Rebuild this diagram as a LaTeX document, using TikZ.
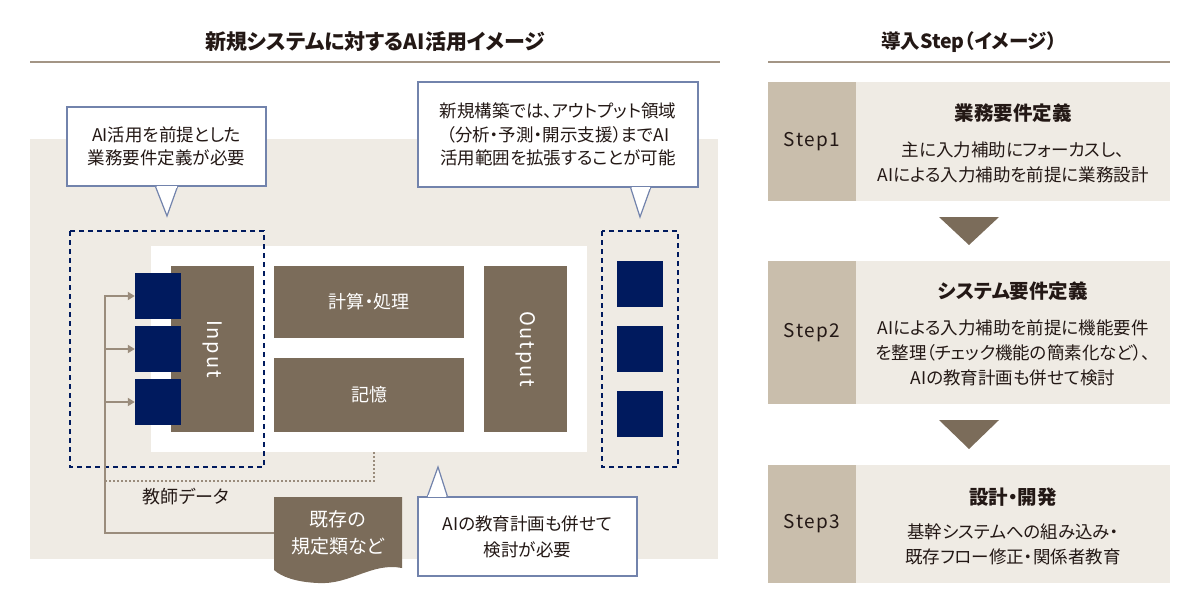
\documentclass[tikz,border=0pt]{standalone}
\usepackage{fontspec}
\setmainfont[RawFeature=+palt]{Noto Sans CJK JP}
\usetikzlibrary{arrows.meta, positioning, calc}
\definecolor{Umber}{HTML}{7B6C5A}
\definecolor{NavyBlue}{HTML}{001A5E}
\definecolor{Sand}{HTML}{EFEBE4}
\definecolor{Khaki}{HTML}{C9BEAC}
\definecolor{RuleGray}{HTML}{A39585}
\definecolor{LineGray}{HTML}{9A8C7C}
\definecolor{NoteBlue}{HTML}{7283AC}
\definecolor{Ink}{HTML}{231815}

\tikzset{
  block/.style={fill=Umber, text=white, inner sep=0pt, font=\fontsize{18}{20}\selectfont},
  port/.style={fill=NavyBlue, minimum width=46pt, minimum height=46pt, inner sep=0pt},
  note/.style={draw=NoteBlue, fill=white, line width=1.2pt, inner sep=0pt, align=center},
  body/.style={align=center, text=Ink, font=\fontsize{17.5}{25}\selectfont},
  steplabel/.style={fill=Khaki, minimum width=88pt, inner sep=0pt, text=Ink, font=\fontsize{19}{19}\selectfont\addfontfeature{LetterSpace=8}},
  stepcard/.style={fill=Sand, minimum width=314pt, inner sep=0pt},
  stephead/.style={text=Ink, font=\bfseries\fontsize{19.5}{19.5}\selectfont},
}

\begin{document}
\begin{tikzpicture}[x=1pt, y=-1pt, >={Triangle[length=7pt, width=8pt]}]
        \useasboundingbox (0,0) rectangle (1200,614);

        % Titles
        \node[text=Ink, font=\bfseries\fontsize{21}{21}\selectfont] (title) at (375,42) {新規システムに対するAI活用イメージ};
        \node[text=Ink, font=\bfseries\fontsize{19.5}{19.5}\selectfont] (steptitle) at (969,42) {導入Step（イメージ）};
        \draw[RuleGray, line width=2pt] (30,62) -- (720,62);
        \draw[RuleGray, line width=2pt] (768,62) -- (1170,62);

        % Background
        \fill[Sand] (30,139) rectangle (718,559);
        \fill[white] (151,246) rectangle (587,452);

        % System blocks
        \node[block, rotate=-90, minimum width=166pt, minimum height=83pt, font=\fontsize{20}{20}\selectfont] (input) at (212.5,349) {\addfontfeature{LetterSpace=9}Input};
        \node[block, minimum width=190pt, minimum height=72pt] (calc) at (369,302) {計算・処理};
        \node[block, minimum width=190pt, minimum height=74pt] (memory) at (369,395) {記憶};
        \node[block, rotate=-90, minimum width=166pt, minimum height=83pt, font=\fontsize{20}{20}\selectfont] (output) at (525.5,349) {\addfontfeature{LetterSpace=9}Output};

        % Ports
        \foreach \i/\y in {1/296, 2/349, 3/402}
            \node[port] (in\i) at (158,\y) {};
        \foreach \i/\y in {1/284, 2/349, 3/414}
            \node[port] (out\i) at (640,\y) {};
        \draw[NavyBlue, line width=1.5pt, dash pattern=on 5pt off 4pt] (70,231) rectangle (264,467);
        \draw[NavyBlue, line width=1.5pt, dash pattern=on 5pt off 4pt] (602,231) rectangle (678,467);

        % Existing rules and feed lines
        \fill[Umber] (274,497) -- (402,497) -- (402,568)
            .. controls (372,562) and (350,585) .. (318,583)
            .. controls (296,582) and (282,577) .. (274,570) -- cycle;
        \node[align=center, text=white, font=\fontsize{19}{27}\selectfont] (rules) at (338,533) {既存の\\規定類など};
        \coordinate (docL) at (274,533);
        \coordinate (trunk) at (105,533);
        \coordinate (tap) at (374,452);
        \coordinate (bend) at (374,481);
        \draw[->, LineGray, line width=1.8pt] (docL) -- (trunk) |- (in1.west);
        \draw[->, LineGray, line width=1.8pt] (trunk |- in2.west) -- (in2.west);
        \draw[->, LineGray, line width=1.8pt] (trunk |- in3.west) -- (in3.west);
        \draw[LineGray, line width=2pt, dash pattern=on 2pt off 2pt] (tap) -- (bend) -- (trunk |- bend);
        \node[body, font=\fontsize{18}{25}\selectfont] (teacher) at (186,497) {教師データ};

        % Callouts
        \node[note, body, font=\fontsize{17.5}{23.5}\selectfont, minimum width=199pt, minimum height=79pt] (note1) at (166.5,146.5) {AI活用を前提とした\\業務要件定義が必要};
        \draw[NoteBlue, line width=1.2pt, fill=white] ($(note1.south)+(-11,0)$) -- (167,216) -- ($(note1.south)+(11,0)$);
        \draw[white, line width=2pt] ($(note1.south)+(-10,0)$) -- ($(note1.south)+(10,0)$);

        \node[note, body, font=\fontsize{17.5}{23.5}\selectfont, minimum width=280pt, minimum height=105pt] (note2) at (558,134.5) {新規構築では、アウトプット領域\\（分析・予測・開示支援）までAI\\活用範囲を拡張することが可能};
        \draw[NoteBlue, line width=1.2pt, fill=white] ($(note2.south east)+(-68,0)$) -- (640,217) -- ($(note2.south east)+(-48,0)$);
        \draw[white, line width=2pt] ($(note2.south east)+(-67,0)$) -- ($(note2.south east)+(-49,0)$);

        \node[note, body, font=\fontsize{17.5}{26}\selectfont, minimum width=219pt, minimum height=79pt] (note3) at (527.5,536.5) {AIの教育計画も併せて\\検討が必要};
        \draw[NoteBlue, line width=1.2pt, fill=white] ($(note3.north west)+(10,0)$) -- (438,467) -- ($(note3.north west)+(30,0)$);
        \draw[white, line width=2pt] ($(note3.north west)+(11,0)$) -- ($(note3.north west)+(29,0)$);

        % Steps
        \node[steplabel, minimum height=119pt] (step1) at (812,141.5) {Step1};
        \node[stepcard, minimum height=119pt, right=0pt of step1] (card1) {};
        \node[stephead] (head1) at (1013,113) {業務要件定義};
        \node[body] (text1) at (1013,162.5) {主に入力補助にフォーカスし、\\AIによる入力補助を前提に業務設計};

        \node[steplabel, minimum height=143pt] (step2) at (812,332.5) {Step2};
        \node[stepcard, minimum height=143pt, right=0pt of step2] (card2) {};
        \node[stephead] (head2) at (1013,291) {システム要件定義};
        \node[body] (text2) at (1013,352.5) {AIによる入力補助を前提に機能要件\\を整理（チェック機能の簡素化など）、\\AIの教育計画も併せて検討};

        \node[steplabel, minimum height=118pt] (step3) at (812,524) {Step3};
        \node[stepcard, minimum height=118pt, right=0pt of step3] (card3) {};
        \node[stephead] (head3) at (1013,497) {設計・開発};
        \node[body] (text3) at (1013,544.5) {基幹システムへの組み込み・\\既存フロー修正・関係者教育};

        % Step arrows
        \fill[Umber] (939,217) -- (999,217) -- (969,245) -- cycle;
        \fill[Umber] (939,420) -- (999,420) -- (969,449) -- cycle;
    \end{tikzpicture}
\end{document}
